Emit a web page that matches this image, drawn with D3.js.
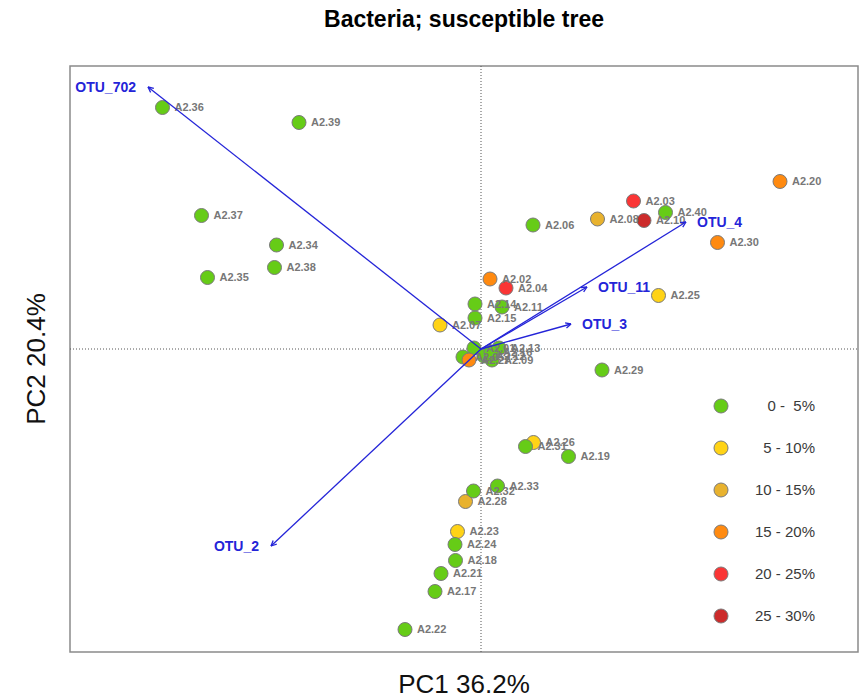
<!DOCTYPE html>
<html>
<head>
<meta charset="utf-8">
<script src="https://cdn.jsdelivr.net/npm/d3@7/dist/d3.min.js"></script>
<style>
  html, body { margin: 0; padding: 0; background: #fff; }
  svg { display: block; font-family: "Liberation Sans", Arial, Helvetica, sans-serif; }
</style>
</head>
<body>
<svg id="chart" width="859" height="698"></svg>
<script>
// PCA biplot of bacterial samples, coloured by infection class
const sampleIds = ["A2.01","A2.02","A2.03","A2.04","A2.05","A2.06","A2.07","A2.08","A2.09","A2.10",
                   "A2.11","A2.12","A2.13","A2.14","A2.15","A2.16","A2.17","A2.18","A2.19","A2.20",
                   "A2.21","A2.22","A2.23","A2.24","A2.25","A2.26","A2.27","A2.28","A2.29","A2.30",
                   "A2.31","A2.32","A2.33","A2.34","A2.35","A2.36","A2.37","A2.38","A2.39","A2.40"];
const pc1 = [-0.014, 0.018, 0.305, 0.050,-0.036, 0.104,-0.082, 0.233, 0.022, 0.326,
              0.042, 0.006, 0.036,-0.012,-0.012, 0.020,-0.092,-0.051, 0.175, 0.598,
             -0.080,-0.152,-0.047,-0.052, 0.355, 0.105,-0.024,-0.031, 0.242, 0.473,
              0.089,-0.015, 0.033,-0.409,-0.547,-0.637,-0.559,-0.413,-0.364, 0.369];
const pc2 = [ 0.002, 0.140, 0.296, 0.122,-0.016, 0.248, 0.048, 0.260,-0.022, 0.257,
              0.084,-0.014, 0.002, 0.090, 0.062,-0.006,-0.485,-0.423,-0.215, 0.335,
             -0.449,-0.561,-0.365,-0.391, 0.107,-0.187,-0.022,-0.305,-0.042, 0.213,
             -0.195,-0.284,-0.274, 0.208, 0.143, 0.483, 0.267, 0.163, 0.453, 0.273];
// index into classLabels
const sampleClass = [0,3,4,4,0,0,1,2,0,5,
                     0,0,0,0,0,0,0,0,0,3,
                     0,0,1,0,1,1,3,2,0,3,
                     0,0,0,0,0,0,0,0,0,0];

const classLabels = ["0 -  5%", "5 - 10%", "10 - 15%", "15 - 20%", "20 - 25%", "25 - 30%"];
const classColors = ["#66cc17", "#ffd316", "#e8b22e", "#ff8a10", "#fa3535", "#cc2b2b"];

const otuNames = ["OTU_702", "OTU_4", "OTU_11", "OTU_3", "OTU_2"];
const otuPc1 = [-0.666, 0.410, 0.212, 0.180, -0.420];
const otuPc2 = [ 0.524, 0.254, 0.124, 0.050, -0.394];

const titleText = "Bacteria; susceptible tree";
const xTitle = "PC1 36.2%";
const yTitle = "PC2 20.4%";

const svg = d3.select("#chart");
const box = { left: 70, top: 66, right: 858, bottom: 652 };

const x = d3.scaleLinear().domain([-0.822, 0.754]).range([box.left, box.right]);
const y = d3.scaleLinear().domain([-0.606, 0.566]).range([box.bottom, box.top]);

// frame
svg.append("rect")
  .attr("x", box.left).attr("y", box.top)
  .attr("width", box.right - box.left).attr("height", box.bottom - box.top)
  .attr("fill", "none").attr("stroke", "#8a8a8a").attr("stroke-width", 1.5);

// zero reference lines
svg.append("line")
  .attr("x1", x(0)).attr("x2", x(0)).attr("y1", box.top).attr("y2", box.bottom)
  .attr("stroke", "#555").attr("stroke-width", 1).attr("stroke-dasharray", "1,2");
svg.append("line")
  .attr("x1", box.left).attr("x2", box.right).attr("y1", y(0)).attr("y2", y(0))
  .attr("stroke", "#555").attr("stroke-width", 1).attr("stroke-dasharray", "1,2");

const samples = sampleIds.map((id, i) => ({ id, px: pc1[i], py: pc2[i], c: sampleClass[i] }));

// sample points
svg.append("g").selectAll("circle").data(samples).join("circle")
  .attr("cx", d => x(d.px)).attr("cy", d => y(d.py)).attr("r", 7)
  .attr("fill", d => classColors[d.c])
  .attr("stroke", "#7a7a7a").attr("stroke-width", 1);

// sample labels
svg.append("g").selectAll("text").data(samples).join("text")
  .attr("x", d => x(d.px) + 12).attr("y", d => y(d.py))
  .attr("dy", "0.35em")
  .attr("font-size", 11).attr("font-weight", "bold")
  .attr("fill", "#777")
  .text(d => d.id);

// loading arrows
const otus = otuNames.map((n, i) => ({ n, px: otuPc1[i], py: otuPc2[i] }));
const arrowColor = "#2424d8";
const ag = svg.append("g");
otus.forEach(d => {
  const x0 = x(0), y0 = y(0), x1 = x(d.px), y1 = y(d.py);
  ag.append("line")
    .attr("x1", x0).attr("y1", y0).attr("x2", x1).attr("y2", y1)
    .attr("stroke", arrowColor).attr("stroke-width", 1.3);
  const ang = Math.atan2(y1 - y0, x1 - x0);
  const len = 6, spread = Math.PI / 7;
  [-spread, spread].forEach(s => {
    ag.append("line")
      .attr("x1", x1).attr("y1", y1)
      .attr("x2", x1 - len * Math.cos(ang + s))
      .attr("y2", y1 - len * Math.sin(ang + s))
      .attr("stroke", arrowColor).attr("stroke-width", 1.3);
  });
  ag.append("text")
    .attr("x", d.px >= 0 ? x1 + 11 : x1 - 12)
    .attr("y", y1).attr("dy", "0.35em")
    .attr("text-anchor", d.px >= 0 ? "start" : "end")
    .attr("font-size", 14).attr("font-weight", "bold")
    .attr("fill", arrowColor)
    .text(d.n);
});

// legend
const lg = svg.append("g");
const legendY = d3.scalePoint().domain(d3.range(classLabels.length)).range([406, 616]);
classLabels.forEach((lab, i) => {
  lg.append("circle")
    .attr("cx", 721).attr("cy", legendY(i)).attr("r", 7)
    .attr("fill", classColors[i]).attr("stroke", "#7a7a7a").attr("stroke-width", 1);
  lg.append("text")
    .attr("x", 815).attr("y", legendY(i)).attr("dy", "0.35em")
    .attr("text-anchor", "end").attr("font-size", 15).attr("fill", "#3a3a3a")
    .attr("xml:space", "preserve")
    .style("white-space", "pre")
    .text(lab);
});

// titles
svg.append("text")
  .attr("x", (box.left + box.right) / 2).attr("y", 27)
  .attr("text-anchor", "middle").attr("font-size", 23).attr("font-weight", "bold")
  .attr("fill", "#000").text(titleText);
svg.append("text")
  .attr("x", (box.left + box.right) / 2).attr("y", 693)
  .attr("text-anchor", "middle").attr("font-size", 26).attr("fill", "#111")
  .text(xTitle);
svg.append("text")
  .attr("transform", `translate(45, ${(box.top + box.bottom) / 2}) rotate(-90)`)
  .attr("text-anchor", "middle").attr("font-size", 26).attr("fill", "#111")
  .text(yTitle);
</script>
</body>
</html>
